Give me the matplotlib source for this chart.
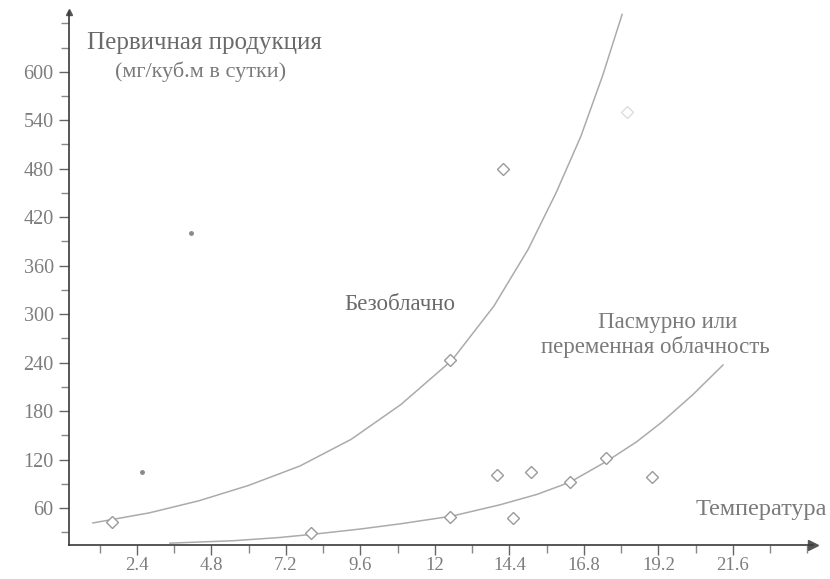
import matplotlib
matplotlib.use("Agg")
import matplotlib.pyplot as plt
from matplotlib.ticker import FixedLocator, MultipleLocator

plt.rcParams['font.family'] = ['Liberation Serif', 'DejaVu Serif']

# ---- data ----
# scatter points, clear sky
clear_t = [1.6, 12.5, 14.2, 18.2]
clear_p = [43, 243, 480, 550]
# scatter points, overcast / variable cloudiness
cloudy_t = [8.0, 12.5, 14.5, 14.0, 15.1, 16.35, 17.5, 19.0]
cloudy_p = [29, 49, 48, 101, 104, 92, 122, 98]
# small dark specks on the page
speck_t = [2.55, 4.13]
speck_p = [104, 400]

# trend curves
clear_curve_t = [0.98, 2.8, 4.4, 6.0, 7.65, 9.3, 10.9, 12.55, 13.9, 15.0, 15.9, 16.7, 17.4, 18.03]
clear_curve_p = [41.5, 54, 69, 88, 112, 145, 188, 243, 310, 380, 450, 520, 595, 671]
cloudy_curve_t = [3.46, 5.5, 7.0, 8.07, 9.6, 10.9, 12.55, 14.1, 15.3, 16.35, 17.54, 18.5, 19.3, 20.3, 21.28]
cloudy_curve_p = [16.5, 19.5, 23.5, 27.5, 34, 40.5, 50, 64, 77, 92, 118, 142, 166, 200, 237]

x_ticks = [2.4, 4.8, 7.2, 9.6, 12, 14.4, 16.8, 19.2, 21.6]
x_tick_labels = ["2.4", "4.8", "7.2", "9.6", "12", "14.4", "16.8", "19.2", "21.6"]
y_ticks = [60, 120, 180, 240, 300, 360, 420, 480, 540, 600]
y_tick_labels = [str(v) for v in y_ticks]

W, H = 830, 579
fig = plt.figure(figsize=(W / 100, H / 100), dpi=100)
ax = fig.add_axes([69 / W, (H - 545) / H, (813 - 69) / W, (545 - 12) / H])
ax.set_xlim(0.21, 24.18)
ax.set_ylim(14.2, 674)

for s in ('top', 'right'):
    ax.spines[s].set_visible(False)
for s in ('left', 'bottom'):
    ax.spines[s].set_color('#3a3a3a')
    ax.spines[s].set_linewidth(1.2)

# arrows at the ends of the axes
ax.plot([1], [0], marker='>', color='#555555', markersize=7, transform=ax.transAxes, clip_on=False)
ax.plot([0], [1], marker='^', color='#555555', markersize=5, transform=ax.transAxes, clip_on=False)

ax.xaxis.set_major_locator(FixedLocator(x_ticks))
ax.set_xticklabels(x_tick_labels)
ax.xaxis.set_minor_locator(MultipleLocator(1.2))
ax.yaxis.set_major_locator(FixedLocator(y_ticks))
ax.set_yticklabels(y_tick_labels)
ax.yaxis.set_minor_locator(MultipleLocator(30))

ax.tick_params(axis='both', which='major', direction='out', length=7, width=1,
               color='#666666', labelcolor='#7d7d7d')
ax.tick_params(axis='both', which='minor', direction='out', length=6, width=1, color='#888888')
ax.tick_params(axis='x', which='major', pad=2, labelsize=13.5)
ax.tick_params(axis='y', which='major', pad=4, labelsize=14.5)

# curves
ax.plot(clear_curve_t, clear_curve_p, color='#ababab', lw=1.1)
ax.plot(cloudy_curve_t, cloudy_curve_p, color='#ababab', lw=1.1)

# points
ax.plot(clear_t[:3], clear_p[:3], linestyle='none', marker='D', markersize=6.5,
        markerfacecolor='white', markeredgecolor='#9a9a9a', markeredgewidth=1)
ax.plot(clear_t[3:], clear_p[3:], linestyle='none', marker='D', markersize=6.5,
        markerfacecolor='white', markeredgecolor='#dddddd', markeredgewidth=1)
ax.plot(cloudy_t, cloudy_p, linestyle='none', marker='D', markersize=6.5,
        markerfacecolor='white', markeredgecolor='#9a9a9a', markeredgewidth=1)
ax.plot(speck_t, speck_p, linestyle='none', marker='o', markersize=2.5,
        color='#8a8a8a')

# texts (figure pixel coordinates)
def ftext(px, py, s, **kw):
    fig.text(px / W, 1 - py / H, s, **kw)

ftext(204, 43, "Первичная продукция", ha='center', va='center', fontsize=18, color='#6a6a6a')
ftext(201, 72, "(мг/куб.м в сутки)", ha='center', va='center', fontsize=16, color='#7a7a7a')
ftext(400, 305, "Безоблачно", ha='center', va='center', fontsize=16.5, color='#6a6a6a')
ftext(668, 322, "Пасмурно или", ha='center', va='center', fontsize=16.5, color='#7a7a7a')
ftext(655, 347, "переменная облачность", ha='center', va='center', fontsize=16.5, color='#7a7a7a')
ftext(827, 510, "Температура", ha='right', va='center', fontsize=17.5, color='#7a7a7a')

fig.savefig("out.png", dpi=100, facecolor='white')
